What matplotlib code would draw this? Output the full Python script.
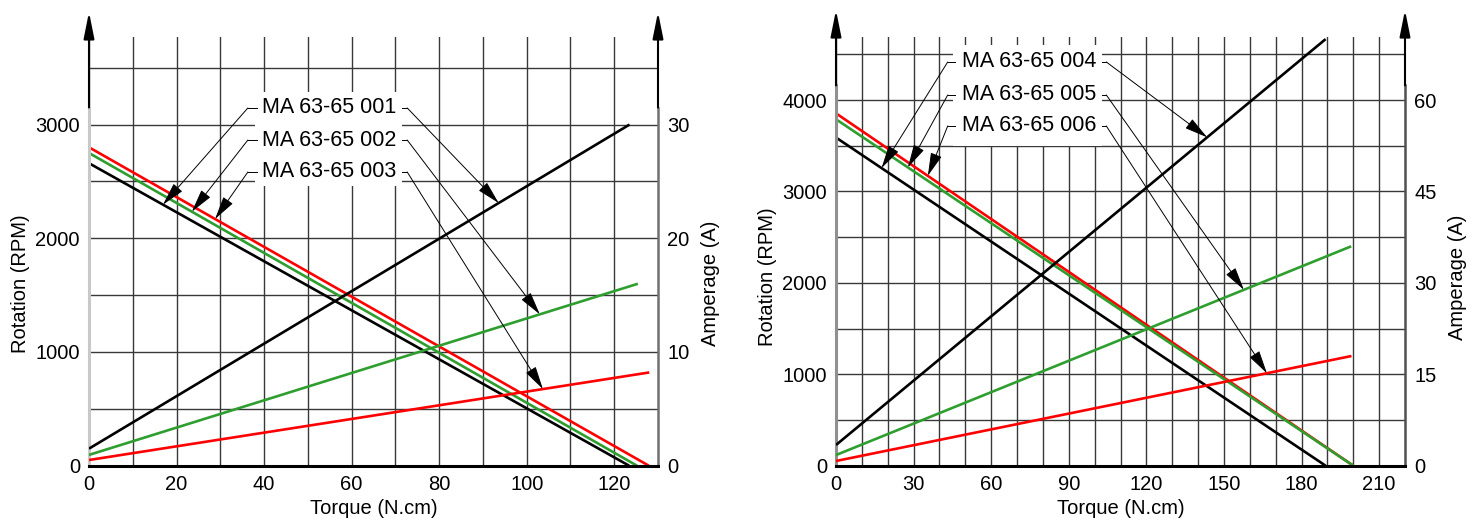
import numpy as np
import matplotlib
matplotlib.use("Agg")
import matplotlib.pyplot as plt
from matplotlib.patches import Rectangle

plt.rcParams['font.family'] = ['Liberation Sans', 'DejaVu Sans']

BLACK = '#000000'
GREEN = '#2e9e2e'
RED = '#ff0000'

# ---- left chart : MA 63-65 001 / 002 / 003 ----
left_models = ['MA 63-65 001', 'MA 63-65 002', 'MA 63-65 003']
left_rpm_torque = [[0, 123.4], [0, 125.2], [0, 127.9]]
left_rpm = [[2660, 0], [2750, 0], [2800, 0]]
left_amp_torque = [[0, 123.5], [0, 125.4], [0, 128.0]]
left_amp = [[1.5, 30.0], [0.95, 16.0], [0.5, 8.2]]
left_xticks = [0, 20, 40, 60, 80, 100, 120]
left_yticks = [0, 1000, 2000, 3000]
left_atick = [0, 10, 20, 30]

# ---- right chart : MA 63-65 004 / 005 / 006 ----
right_models = ['MA 63-65 004', 'MA 63-65 005', 'MA 63-65 006']
right_rpm_torque = [[0, 189.3], [0, 200.0], [0, 200.0]]
right_rpm = [[3590, 0], [3790, 0], [3855, 0]]
right_amp_torque = [[0, 189.3], [0, 199.2], [0, 199.3]]
right_amp = [[3.4, 70.0], [1.75, 36.0], [0.77, 18.0]]
right_xticks = [0, 30, 60, 90, 120, 150, 180, 210]
right_yticks = [0, 1000, 2000, 3000, 4000]
right_atick = [0, 15, 30, 45, 60]

colors = [BLACK, GREEN, RED]

fig = plt.figure(figsize=(14.74, 5.25), dpi=100)


def draw(rect, xmax, ytop, amp_per_rpm, xticks, yticks, aticks, xminor, models,
         rpm_t, rpm, amp_t, amp, spine_break, arrow_top, left_spine_col, right_spine_col,
         box, text_x, text_ys, seg_l, seg_r, tips_l, tips_r, ylab_y):
    ax = fig.add_axes(rect)
    ax.set_xlim(0, xmax)
    ax.set_ylim(0, ytop)
    ax.set_xticks(xticks)
    ax.set_xticks(np.arange(0, xmax, xminor), minor=True)
    ax.set_yticks(yticks)
    ax.set_yticks(np.arange(0, ytop, 500), minor=True)
    ax.grid(which='both', color='#383838', lw=1.0, zorder=1)
    ax.tick_params(which='both', length=0, labelsize=14.5, pad=6.5)
    for s in ['top', 'left', 'right']:
        ax.spines[s].set_visible(False)
    ax.spines['bottom'].set_linewidth(2.2)
    ax.spines['bottom'].set_zorder(6)
    ax.set_xlabel('Torque (N.cm)', fontsize=14.5, labelpad=4)
    ax.set_ylabel('Rotation (RPM)', fontsize=14.5, labelpad=4, y=ylab_y)

    ax2 = ax.twinx()
    ax2.set_ylim(0, ytop * amp_per_rpm)
    ax2.set_yticks(aticks)
    ax2.tick_params(length=0, labelsize=14.5, pad=6.5)
    for s in ax2.spines.values():
        s.set_visible(False)
    ax2.set_ylabel('Amperage (A)', fontsize=14.5, labelpad=8, y=ylab_y)

    # red first, green over it, black last
    for c, t, r in list(zip(colors, rpm_t, rpm))[::-1]:
        ax.plot(t, r, color=c, lw=1.9, zorder=2, solid_capstyle='butt')
    for c, t, a in list(zip(colors, amp_t, amp))[::-1]:
        ax2.plot(t, a, color=c, lw=1.9, zorder=2, solid_capstyle='butt')

    # axis lines with arrows
    ax.plot([0, 0], [0, spine_break], color=left_spine_col, lw=2.2, clip_on=False, zorder=6)
    ax.plot([xmax, xmax], [0, spine_break], color=right_spine_col, lw=1.8, clip_on=False, zorder=6)
    for xx in [0, xmax]:
        ax.annotate('', xy=(xx, arrow_top), xytext=(xx, spine_break),
                    arrowprops=dict(arrowstyle='-|>,head_length=1.6,head_width=0.32',
                                    lw=1.5, color='k', shrinkA=0, shrinkB=0),
                    annotation_clip=False, zorder=7)

    # white label box
    bx0, bx1, by0, by1 = box
    ax.add_patch(Rectangle((bx0, by0), bx1 - bx0, by1 - by0, facecolor='white',
                           edgecolor='none', zorder=3))
    arrow_kw = dict(arrowstyle='-|>,head_length=1.45,head_width=0.36', lw=0.7,
                    color='k', shrinkA=0, shrinkB=0)
    for i, (m, ty) in enumerate(zip(models, text_ys)):
        ax.text(text_x, ty, m, fontsize=15.5, va='center', ha='left', zorder=8)
        ax.plot(seg_l, [ty, ty], color='k', lw=0.7, zorder=8)
        ax.plot(seg_r, [ty, ty], color='k', lw=0.7, zorder=8)
        tl = tips_l[i]
        ax.annotate('', xy=(tl, np.interp(tl, rpm_t[i], rpm[i])),
                    xytext=(seg_l[1], ty), arrowprops=arrow_kw, zorder=8)
        tr = tips_r[i]
        ax2.annotate('', xy=(tr, np.interp(tr, amp_t[i], amp[i])),
                     xytext=(seg_r[1], ty), textcoords=ax.transData,
                     arrowprops=arrow_kw, zorder=8)
    return ax, ax2


H = 525.0
W = 1474.0
bottom = (H - 465.7) / H
height = (465.7 - 37) / H

draw([89 / W, bottom, 569 / W, height], 130, 3770, 0.01,
     left_xticks, left_yticks, left_atick, 10, left_models,
     left_rpm_torque, left_rpm, left_amp_torque, left_amp,
     3150, 3990, '#c8c8c8', '#707070',
     (37.9, 71.5, 2460, 3287), 39.5, [3146, 2864, 2583],
     [38.3, 36.3], [71.5, 72.7], [16.9, 23.5, 28.8], [93.6, 103.0, 103.7], 0.425)

draw([836 / W, bottom, 569 / W, height], 220, 4690, 0.015,
     right_xticks, right_yticks, right_atick, 10, right_models,
     right_rpm_torque, right_rpm, right_amp_torque, right_amp,
     4160, 4985, '#909090', '#505050',
     (45.1, 103.0, 3498, 4602), 48.6, [4417, 4056, 3717],
     [45.9, 43.2], [103.0, 104.5], [17.6, 27.8, 35.5], [143.5, 157.7, 166.6], 0.44)

fig.savefig('out.png', dpi=100)
